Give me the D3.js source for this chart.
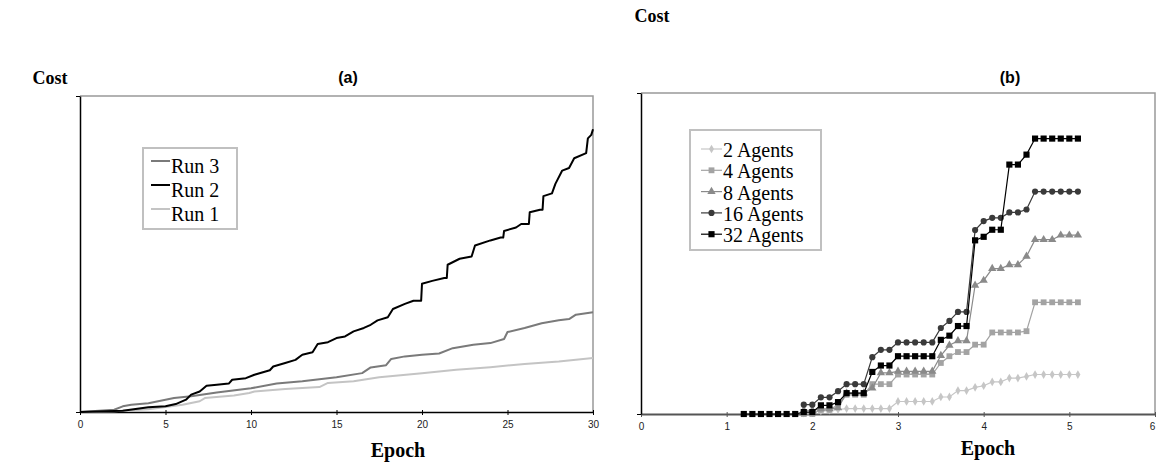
<!DOCTYPE html>
<html>
<head>
<meta charset="utf-8">
<script src="https://cdn.jsdelivr.net/npm/d3@7"></script>
<style>
  body { margin: 0; background: #fff; }
  svg { display: block; }
</style>
</head>
<body>
<svg id="chart" width="1158" height="465"></svg>
<script>
// ---- data: panel (a), cost per epoch for three runs ----
const run1Epoch = [0, 2, 4, 5, 6, 7, 7.3, 9, 9.9, 10.2, 12, 14, 14.5, 16, 17.5, 20, 22, 24, 26, 28, 30];
const run1Cost  = [0, 0.2, 0.9, 1.6, 2.3, 3.4, 4.4, 5.2, 6.0, 6.5, 7.3, 7.9, 9.2, 9.7, 11.0, 12.3, 13.4, 14.2, 15.2, 16.0, 17.1];

const run2Epoch = [0, 2.5, 4, 5, 5.6, 6.2, 6.5, 7, 7.4, 8, 8.7, 8.9, 9.7, 10.2, 10.7, 11.1, 11.3, 12, 12.6, 13, 13.6, 13.9,
  14.5, 15, 15.5, 16, 16.6, 17, 17.4, 18, 18.3, 19, 19.5, 19.95, 20, 20.6, 21.3, 21.45, 21.5, 22.2, 22.9, 23.1, 24, 24.6,
  24.75, 24.8, 25.5, 25.8, 26.25, 26.3, 26.9, 27.05, 27.1, 27.6, 27.8, 28.2, 28.6, 28.9, 29.6, 29.7, 29.9, 30];
const run2Cost  = [0, 0.4, 1.5, 1.8, 2.5, 3.9, 5.5, 6.5, 8.3, 8.6, 9.0, 10.2, 10.7, 11.8, 12.6, 13.2, 14.4, 15.5, 16.5, 18.1, 18.9, 21.5,
  22.1, 23.4, 23.9, 25.5, 26.6, 27.6, 29.0, 30.0, 32.6, 34.2, 35.2, 35.2, 40.6, 41.5, 42.4, 42.4, 46.6, 48.5, 49.2, 52.7, 54.3, 55.2,
  55.2, 57.3, 58.4, 59.5, 59.5, 63.2, 64.0, 64.0, 68.3, 69.2, 72.2, 76.4, 77.2, 80.3, 81.9, 86.6, 87.7, 89.5];

const run3Epoch = [0, 2, 2.5, 3, 4, 5, 5.5, 6.5, 8, 10, 11.5, 13, 15, 16.5, 17, 17.9, 18.2, 19, 20, 21, 21.8, 23, 24, 24.8, 25,
  26, 27, 28, 28.6, 29, 30];
const run3Cost  = [0, 0.7, 1.8, 2.3, 2.8, 3.9, 4.4, 5.0, 6.2, 7.5, 9.0, 9.7, 11.0, 12.3, 14.1, 14.8, 16.8, 17.6, 18.1, 18.5, 20.2,
  21.3, 21.8, 23.1, 25.3, 26.6, 28.1, 29.0, 29.4, 30.8, 31.6];

const runNames = ["Run 3", "Run 2", "Run 1"];

// ---- data: panel (b), cost per epoch for agent counts ----
const agentEpochs = [1.2, 1.3, 1.4, 1.5, 1.6, 1.7, 1.8, 1.9, 2.0, 2.1, 2.2, 2.3, 2.4, 2.5, 2.6, 2.7, 2.8, 2.9,
  3.0, 3.1, 3.2, 3.3, 3.4, 3.5, 3.6, 3.7, 3.8, 3.9, 4.0, 4.1, 4.2, 4.3, 4.4, 4.5, 4.6, 4.7, 4.8, 4.9, 5.0, 5.1];
const agents2  = [null, null, null, null, null, null, null,
  0.3, 0.6, 1.0, 1.2, 1.4, 1.7, 1.7, 1.7, 1.7, 1.7, 1.7, 3.9, 3.9, 3.9, 3.9, 3.9, 5.3, 5.3, 7.3, 7.3,
  8.3, 8.8, 10.0, 10.0, 11.2, 11.2, 11.7, 12.3, 12.3, 12.3, 12.3, 12.3, 12.3];
const agents4  = [null, null, null, null, null, null, null,
  0, 0, 1.3, 1.3, 2.9, 6.0, 6.0, 6.0, 9.3, 9.3, 9.3, 12.3, 12.3, 12.3, 12.3, 12.3, 15.9, 18.0, 19.3, 19.3,
  21.6, 21.6, 25.4, 25.4, 25.4, 25.4, 25.8, 34.8, 34.8, 34.8, 34.8, 34.8, 34.8];
const agents8  = [null, null, null, null, null, null, null,
  1.1, 1.1, 1.6, 1.6, 1.9, 6.5, 6.5, 6.5, 8.1, 12.8, 12.8, 13.3, 13.3, 13.3, 13.3, 13.3, 18.2, 21.4, 22.8, 22.8,
  40.1, 41.6, 45.3, 45.3, 46.5, 46.5, 49.1, 54.3, 54.3, 54.3, 55.7, 55.7, 55.7];
const agents16 = [null, null, null, null, null, null, null,
  2.9, 2.9, 5.2, 5.2, 7.1, 9.3, 9.3, 9.3, 17.7, 20.0, 20.0, 22.3, 22.3, 22.3, 22.3, 22.3, 26.8, 29.0, 31.8, 31.8,
  57.3, 60.1, 61.1, 61.1, 62.8, 62.8, 63.7, 69.3, 69.3, 69.3, 69.3, 69.3, 69.3];
const agents32 = [0, 0, 0, 0, 0, 0, 0,
  0.6, 0.6, 2.7, 2.7, 3.7, 6.5, 6.5, 6.5, 13.1, 15.1, 15.1, 18.0, 18.0, 18.0, 18.0, 18.0, 23.1, 24.4, 27.4, 27.4,
  54.1, 55.2, 57.4, 57.4, 77.7, 77.7, 80.8, 85.8, 85.8, 85.8, 85.8, 85.8, 85.8];

const agentNames = ["2 Agents", "4 Agents", "8 Agents", "16 Agents", "32 Agents"];

const xTicksA = [0, 5, 10, 15, 20, 25, 30];
const xTicksB = [0, 1, 2, 3, 4, 5, 6];

const svg = d3.select("#chart");
const serif = "'Liberation Serif', 'Times New Roman', serif";
const sans = "'Liberation Sans', Arial, sans-serif";

// draws the box, axes and labels for one panel
function drawFrame(x, y, ticks, opts) {
  const [x0, x1] = x.range();
  const [y0, y1] = y.range();

  // gray top and right border
  svg.append("path")
    .attr("d", `M${x0},${y1}H${x1}V${y0}`)
    .attr("fill", "none")
    .attr("stroke", "#999")
    .attr("stroke-width", 1.5);

  const xAxis = svg.append("g")
    .attr("transform", "translate(0," + y0 + ")")
    .call(d3.axisBottom(x).tickValues(ticks).tickFormat(d3.format("d")).tickSize(4).tickSizeOuter(0));
  xAxis.select(".domain").attr("stroke", opts.xAxisColor).attr("stroke-width", opts.xAxisWidth);
  xAxis.selectAll(".tick line").attr("stroke", opts.xAxisColor).attr("y1", -2).attr("y2", 3);
  xAxis.selectAll(".tick text")
    .attr("font-family", sans)
    .attr("font-size", 10)
    .attr("fill", "#222")
    .attr("y", 9);
  // keep the last label inside the page
  xAxis.selectAll(".tick:last-of-type text").attr("dx", opts.lastDx || 0);

  const yAxis = svg.append("g")
    .attr("transform", "translate(" + x0 + ",0)")
    .call(d3.axisLeft(y).tickValues([0, 100]).tickSize(4).tickSizeOuter(0).tickFormat(""));
  yAxis.select(".domain").attr("stroke", "#000").attr("stroke-width", 1.5);
  yAxis.selectAll(".tick line").attr("stroke", "#000");

  svg.append("text")
    .attr("x", opts.titleX)
    .attr("y", opts.titleY)
    .attr("text-anchor", "middle")
    .attr("font-family", sans)
    .attr("font-weight", "bold")
    .attr("font-size", 16)
    .text(opts.title);

  svg.append("text")
    .attr("x", opts.costX)
    .attr("y", opts.costY)
    .attr("text-anchor", "middle")
    .attr("font-family", serif)
    .attr("font-weight", "bold")
    .attr("font-size", 18)
    .text("Cost");

  svg.append("text")
    .attr("x", opts.epochX)
    .attr("y", opts.epochY)
    .attr("text-anchor", "middle")
    .attr("font-family", serif)
    .attr("font-weight", "bold")
    .attr("font-size", 20)
    .text("Epoch");
}

// ---------------- panel (a) ----------------
const xA = d3.scaleLinear().domain([0, 30]).range([80, 593]);
const yA = d3.scaleLinear().domain([0, 100]).range([412, 96]);

drawFrame(xA, yA, xTicksA, {
  xAxisColor: "#000", xAxisWidth: 1.5,
  title: "(a)", titleX: 348, titleY: 83,
  costX: 50, costY: 84,
  epochX: 398, epochY: 457
});

const runs = [
  { name: "Run 1", xs: run1Epoch, ys: run1Cost, color: "#c4c4c4" },
  { name: "Run 3", xs: run3Epoch, ys: run3Cost, color: "#7a7a7a" },
  { name: "Run 2", xs: run2Epoch, ys: run2Cost, color: "#000" }
];

const lineA = d3.line()
  .x(d => xA(d[0]))
  .y(d => yA(d[1]));

svg.selectAll(".run")
  .data(runs)
  .enter().append("path")
  .attr("class", "run")
  .attr("d", r => lineA(r.xs.map((v, i) => [v, r.ys[i]])))
  .attr("fill", "none")
  .attr("stroke", r => r.color)
  .attr("stroke-width", 2)
  .attr("stroke-linejoin", "round");

// legend (a)
const legA = svg.append("g").attr("transform", "translate(143,148)");
legA.append("rect")
  .attr("width", 94).attr("height", 81)
  .attr("fill", "#fff").attr("stroke", "#c0c0c0").attr("stroke-width", 2);
runNames.forEach((name, i) => {
  const r = runs.find(d => d.name === name);
  const cy = 19 + i * 24;
  legA.append("line")
    .attr("x1", 8).attr("x2", 27).attr("y1", cy - 6).attr("y2", cy - 6)
    .attr("stroke", r.color).attr("stroke-width", 2);
  legA.append("text")
    .attr("x", 28).attr("y", cy + 6)
    .attr("font-family", serif).attr("font-size", 20)
    .text(name);
});

// ---------------- panel (b) ----------------
const xB = d3.scaleLinear().domain([0, 6]).range([641, 1155]);
const yB = d3.scaleLinear().domain([0, 100]).range([414, 93]);

drawFrame(xB, yB, xTicksB, {
  xAxisColor: "#555", xAxisWidth: 2,
  title: "(b)", titleX: 1010, titleY: 83,
  costX: 652, costY: 22,
  epochX: 988, epochY: 455,
  lastDx: -3
});

const agentSeries = [
  { name: "2 Agents", values: agents2, color: "#c6c6c6", symbol: d3.symbolDiamond, size: 22 },
  { name: "4 Agents", values: agents4, color: "#a3a3a3", symbol: d3.symbolSquare, size: 34 },
  { name: "8 Agents", values: agents8, color: "#8a8a8a", symbol: d3.symbolTriangle, size: 30 },
  { name: "16 Agents", values: agents16, color: "#3a3a3a", symbol: d3.symbolCircle, size: 30 },
  { name: "32 Agents", values: agents32, color: "#000", symbol: d3.symbolSquare, size: 38 }
];

const lineB = d3.line()
  .defined(d => d[1] != null)
  .x(d => xB(d[0]))
  .y(d => yB(d[1]));

agentSeries.forEach(s => {
  const pts = agentEpochs.map((e, i) => [e, s.values[i]]);
  const g = svg.append("g");
  g.append("path")
    .attr("d", lineB(pts))
    .attr("fill", "none")
    .attr("stroke", s.color)
    .attr("stroke-width", 1.2);
  g.selectAll("path.mark")
    .data(pts.filter(d => d[1] != null))
    .enter().append("path")
    .attr("class", "mark")
    .attr("transform", d => "translate(" + xB(d[0]) + "," + yB(d[1]) + ")")
    .attr("d", d3.symbol().type(s.symbol).size(s.size))
    .attr("fill", s.color);
});

// legend (b)
const legB = svg.append("g").attr("transform", "translate(690,130)");
legB.append("rect")
  .attr("width", 131).attr("height", 120)
  .attr("fill", "#fff").attr("stroke", "#c0c0c0").attr("stroke-width", 2);
agentNames.forEach((name, i) => {
  const s = agentSeries.find(d => d.name === name);
  const cy = 21 + i * 21.3;
  legB.append("line")
    .attr("x1", 11).attr("x2", 32).attr("y1", cy - 2).attr("y2", cy - 2)
    .attr("stroke", s.color).attr("stroke-width", 1.2);
  legB.append("path")
    .attr("transform", "translate(21.5," + (cy - 2) + ")")
    .attr("d", d3.symbol().type(s.symbol).size(s.size))
    .attr("fill", s.color);
  legB.append("text")
    .attr("x", 33).attr("y", cy + 6)
    .attr("font-family", serif).attr("font-size", 20)
    .text(name);
});
</script>
</body>
</html>
